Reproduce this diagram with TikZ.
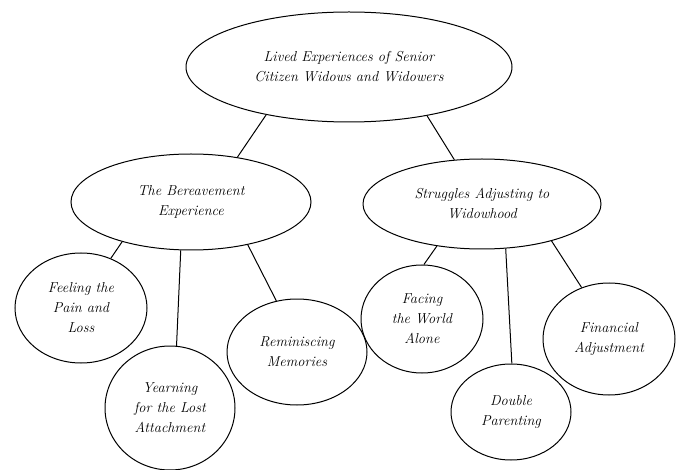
\documentclass[tikz,border=0pt]{standalone}
\usepackage{tikz}
\usetikzlibrary{shapes.geometric}

\begin{document}
\begin{tikzpicture}[
  x=1pt, y=-1pt, line width=1pt,
  every node/.style={draw, ellipse, inner sep=0pt, align=center,
    font=\fontsize{14.4}{20}\selectfont\itshape},
  bubble/.style 2 args={minimum width=#1, minimum height=#2}
]
\useasboundingbox (0,0) rectangle (677,470);

\node[bubble={326}{110}] (root) at (349,67) {Lived Experiences of Senior\\Citizen Widows and Widowers};
\node[bubble={240}{96}] (bereave) at (191,202) {The Bereavement\\Experience};
\node[bubble={238}{90}] (struggle) at (482,204) {Struggles Adjusting to\\Widowhood};

\node[bubble={132}{110}] (pain) at (81,308) {Feeling the\\Pain and\\Loss};
\node[bubble={130}{124}] (yearn) at (170,408) {Yearning\\for the Lost\\Attachment};
\node[bubble={140}{106}] (memory) at (297,352) {Reminiscing\\Memories};

\node[bubble={122}{108}] (alone) at (422,319) {Facing\\the World\\Alone};
\node[bubble={120}{96}] (parent) at (511,412) {Double\\Parenting};
\node[bubble={132}{112}] (finance) at (609,339) {Financial\\Adjustment};

\draw (root.210) -- (bereave.44);
\draw (root.-32) -- (struggle.122);
\draw (bereave.210) -- (pain.59);
\draw (bereave.258) -- (yearn.84);
\draw (bereave.-37) -- (memory.112);
\draw (struggle.223) -- (alone.88);
\draw (struggle.-62) -- (parent.89);
\draw (struggle.-28) -- (finance.118);
\end{tikzpicture}
\end{document}
